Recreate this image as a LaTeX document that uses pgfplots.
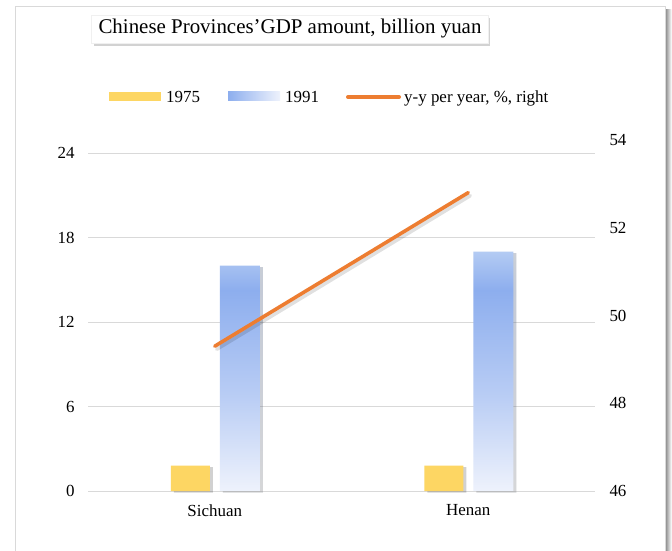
\documentclass[border=0pt]{standalone}
\usepackage{pgfplots}
\pgfplotsset{compat=1.18}
\usepackage{fontspec}
\setmainfont{Liberation Serif}
\usetikzlibrary{shadows}
\definecolor{cyellow}{HTML}{FDD663}
\definecolor{corange}{HTML}{ED7D31}
\definecolor{bbtop}{HTML}{B3CBF3}
\definecolor{bbmid}{HTML}{8DAEEE}
\definecolor{bblow}{HTML}{EEF2FC}
\definecolor{gridc}{HTML}{D9D9D9}
\pgfdeclareverticalshading{barblue}{100bp}{color(0bp)=(bblow); color(25bp)=(bblow); color(45bp)=(bbmid!55!bblow); color(67bp)=(bbmid); color(75bp)=(bbtop); color(100bp)=(bbtop)}
\begin{document}
\begin{tikzpicture}
\useasboundingbox (0,0) rectangle (672bp,551bp);
\fill[white] (0,0) rectangle (672bp,551bp);
\shade[left color=black!45, right color=white] (665.5bp,-5bp) rectangle (671.5bp,541bp);
\draw[gridc, line width=1bp] (15bp,-5bp) -- (15bp,544bp) -- (665bp,544bp) -- (665bp,-5bp);
\begin{axis}[at={(88bp,60bp)}, anchor=south west, scale only axis,
  width=507bp, height=351bp,
  xmin=-0.5, xmax=1.5, ymin=0, ymax=24.92,
  xtick={0,1}, xticklabels={Sichuan,Henan},
  ytick={0,6,12,18,24},
  ymajorgrids, grid style={gridc, line width=0.9bp},
  axis line style={draw=none}, major tick length=0,
  tick label style={font=\fontsize{17}{20}\selectfont},
  yticklabel style={xshift=-10bp},
  xticklabel style={yshift=-10bp},
  /pgf/number format/assume math mode=true,
  clip=false]
\addplot[ybar, bar width=39bp, bar shift=-24.5bp, fill=cyellow, draw=none,
  preaction={fill=black, opacity=0.18, transform canvas={xshift=3bp, yshift=-1.5bp}}]
  coordinates {(0,1.8) (1,1.8)};
\addplot[ybar, bar width=40bp, bar shift=25bp, shading=barblue, draw=none,
  preaction={fill=black, opacity=0.18, transform canvas={xshift=3bp, yshift=-1.5bp}}]
  coordinates {(0,16.0) (1,17.0)};
\end{axis}
\begin{axis}[at={(88bp,60bp)}, anchor=south west, scale only axis,
  width=507bp, height=351bp,
  xmin=-0.5, xmax=1.5, ymin=46, ymax=54,
  hide x axis, axis y line*=right,
  ytick={46,48,50,52,54},
  axis line style={draw=none}, major tick length=0,
  tick label style={font=\fontsize{17}{20}\selectfont},
  yticklabel style={xshift=11bp},
  /pgf/number format/assume math mode=true,
  clip=false]
\addplot[black, opacity=0.12, line width=3.6bp, line cap=round, forget plot, transform canvas={xshift=2bp, yshift=-3bp}]
  coordinates {(0,49.3) (1,52.8)};
\addplot[corange, line width=3.6bp, line cap=round]
  coordinates {(0,49.3) (1,52.8)};
\end{axis}
\node[fill=white, draw=gray!12, drop shadow={shadow xshift=2bp, shadow yshift=-3bp, opacity=0.35},
  inner xsep=7bp, minimum height=28bp, font=\fontsize{21}{24}\selectfont]
  at (290bp,522bp) {Chinese Provinces’GDP amount, billion yuan};
\fill[cyellow] (109bp,450bp) rectangle (161bp,459bp);
\node[anchor=base west, inner sep=0, font=\fontsize{17}{20}\selectfont] at (166bp,448bp) {1975};
\shade[left color=bbmid, right color=bblow] (228bp,450bp) rectangle (280bp,459bp);
\node[anchor=base west, inner sep=0, font=\fontsize{17}{20}\selectfont] at (285bp,448bp) {1991};
\draw[corange, line width=4bp, line cap=round] (348bp,454bp) -- (399bp,454bp);
\node[anchor=base west, inner sep=0, font=\fontsize{17}{20}\selectfont] at (404bp,448bp) {y-y per year, \%, right};
\end{tikzpicture}
\end{document}
